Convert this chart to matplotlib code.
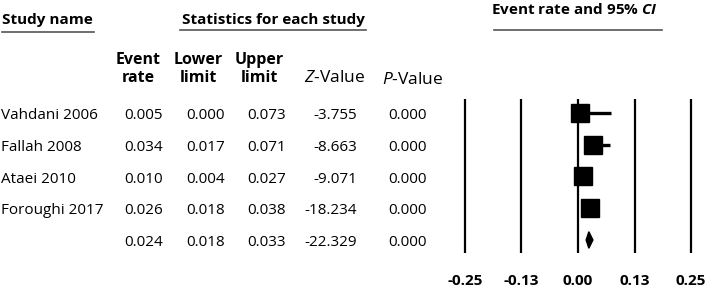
import matplotlib
matplotlib.use("Agg")
import matplotlib.pyplot as plt
import matplotlib.transforms as mtransforms
from matplotlib.lines import Line2D
from matplotlib.patches import Polygon

plt.rcParams['font.family'] = ['Open Sans', 'DejaVu Sans']
plt.rcParams['mathtext.fontset'] = 'custom'
plt.rcParams['mathtext.rm'] = 'Open Sans'
plt.rcParams['mathtext.it'] = 'Open Sans:italic'
plt.rcParams['mathtext.bf'] = 'Open Sans:bold'
plt.rcParams['mathtext.bfit'] = 'Open Sans:bold:italic'

# ---- data ----
studies = ["Vahdani 2006", "Fallah 2008", "Ataei 2010", "Foroughi 2017"]
event_rate = [0.005, 0.034, 0.010, 0.026]
lower_limit = [0.000, 0.017, 0.004, 0.018]
upper_limit = [0.073, 0.071, 0.027, 0.038]
z_value = [-3.755, -8.663, -9.071, -18.234]
p_value = [0.000, 0.000, 0.000, 0.000]

summary_rate = 0.024
summary_lower = 0.018
summary_upper = 0.033
summary_z = -22.329
summary_p = 0.000

axis_ticks = [-0.25, -0.125, 0.0, 0.125, 0.25]
axis_tick_labels = ["-0.25", "-0.13", "0.00", "0.13", "0.25"]

W, H = 709, 294
fig = plt.figure(figsize=(W / 100, H / 100), dpi=100)

def fx(px):
    return px / W

def fy(py):
    return 1 - py / H

# forest axes
ax_left, ax_right = 455, 701
ax_top, ax_bot = 99, 253
ax = fig.add_axes([fx(ax_left), fy(ax_bot), (ax_right - ax_left) / W, (ax_bot - ax_top) / H])
ax.set_xlim(-0.2721, 0.2721)
ax.set_ylim(4.41, -0.44)
for s in ax.spines.values():
    s.set_visible(False)
ax.set_yticks([])
ax.set_xticks(axis_ticks)
ax.set_xticklabels(axis_tick_labels, fontsize=11, fontweight='bold')
ax.tick_params(axis='x', length=0, pad=15)
ax.patch.set_alpha(0)

for t in axis_ticks:
    ax.axvline(t, color='black', lw=1.6, zorder=1)

rows = list(range(len(studies)))
for i in rows:
    ax.plot([lower_limit[i], upper_limit[i]], [i, i], color='black', lw=2.4, zorder=2,
            solid_capstyle='butt')
    ax.plot([event_rate[i]], [i], marker='s', color='black', markersize=13.5, zorder=3,
            linestyle='none')

srow = len(studies)
dh = 0.26
diamond = Polygon([(summary_lower, srow), (summary_rate, srow - dh),
                   (summary_upper, srow), (summary_rate, srow + dh)],
                  closed=True, facecolor='black', edgecolor='black', zorder=3)
ax.add_patch(diamond)

# table text
trans = mtransforms.blended_transform_factory(fig.transFigure, ax.transData)
fs = 11
col_right = [163, 225, 286, 357, 427]
dy = 0.08

def fmt(v):
    return f"{v:.3f}"

for i in rows:
    ax.text(fx(1), i + dy, studies[i], transform=trans, ha='left', va='center', fontsize=fs)
    vals = [event_rate[i], lower_limit[i], upper_limit[i], z_value[i], p_value[i]]
    for xr, v in zip(col_right, vals):
        ax.text(fx(xr), i + dy, fmt(v), transform=trans, ha='right', va='center', fontsize=fs)

svals = [summary_rate, summary_lower, summary_upper, summary_z, summary_p]
for xr, v in zip(col_right, svals):
    ax.text(fx(xr), srow + dy, fmt(v), transform=trans, ha='right', va='center', fontsize=fs)

# headers
hfs = 11
fig.text(fx(2), fy(20), "Study name", ha='left', va='center', fontsize=hfs, fontweight='bold')
fig.text(fx(273), fy(20), "Statistics for each study", ha='center', va='center', fontsize=hfs,
         fontweight='bold')
fig.text(fx(574), fy(10), r"Event rate and 95% $\mathbfit{CI}$", ha='center', va='center',
         fontsize=hfs, fontweight='bold')

line_col = '#555555'
fig.add_artist(Line2D([fx(2), fx(94)], [fy(32), fy(32)], color=line_col, lw=1.2))
fig.add_artist(Line2D([fx(180), fx(366)], [fy(30), fy(30)], color=line_col, lw=1.2))
fig.add_artist(Line2D([fx(494), fx(662)], [fy(30), fy(30)], color=line_col, lw=1.2))

cfs = 11.5
for xc, txt in [(138, "Event\nrate"), (198, "Lower\nlimit"), (259, "Upper\nlimit")]:
    fig.text(fx(xc), fy(69), txt, ha='center', va='center', fontsize=cfs, fontweight='bold',
             linespacing=1.1)
fig.text(fx(334), fy(78), r"$\mathit{Z}$-Value", ha='center', va='center', fontsize=12.5)
fig.text(fx(413), fy(80), r"$\mathit{P}$-Value", ha='center', va='center', fontsize=12.5)

fig.savefig("out.png", dpi=100, facecolor='white')
